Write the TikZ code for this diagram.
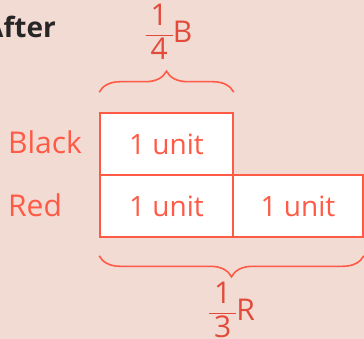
\documentclass[tikz,border=0pt]{standalone}
\usepackage{fontspec}
\setmainfont{Open Sans}
\usetikzlibrary{decorations.pathreplacing}
\definecolor{bgpink}{HTML}{F2DBD3}
\definecolor{coral}{HTML}{FF5A46}
\definecolor{fraccol}{HTML}{E24B3B}
\newcommand{\barfrac}[2]{$\vcenter{\hbox{\setlength{\arrayrulewidth}{1.5pt}\renewcommand{\arraystretch}{1}\begin{tabular}{@{\,}c@{\,}}#1\\[-1pt]\hline #2\end{tabular}}}$}
\begin{document}
\begin{tikzpicture}[x=1pt,y=-1pt,
    unitbox/.style={draw=coral,line width=1.6pt,fill=white,minimum height=62pt,inner sep=0pt,
      text=coral,font=\fontsize{28}{30}\selectfont},
    rowlbl/.style={anchor=base west,text=coral,font=\fontsize{30}{32}\selectfont,inner sep=0pt},
    fraclbl/.style={text=fraccol,font=\fontsize{30}{33}\selectfont,inner sep=0pt},
    curly/.style={draw=coral,line width=1.6pt,decorate,decoration={brace,amplitude=21pt}}]
    \fill[bgpink] (0,0) rectangle (364,339);
    \useasboundingbox (0,0) rectangle (364,339);
    \node[anchor=base east,text=black!85,font=\bfseries\fontsize{28}{30}\selectfont,inner sep=0pt] (after) at (56,38) {After};
    \node[unitbox,minimum width=133pt] (bk) at (166.5,144) {1 unit};
    \node[unitbox,minimum width=133pt] (r1) at (166.5,206) {1 unit};
    \node[unitbox,minimum width=130pt] (r2) at (298,206) {1 unit};
    \node[rowlbl] (blk) at (8,154) {Black};
    \node[rowlbl] (red) at (8,217) {Red};
    \draw[curly] ([yshift=20pt]bk.north west) -- ([yshift=20pt]bk.north east);
    \draw[curly] ([yshift=-18pt]r2.south east) -- ([yshift=-18pt]r1.south west);
    \node[fraclbl] (fb) at (169,36) {\barfrac{1}{4}B};
    \node[fraclbl] (fr) at (232,314) {\barfrac{1}{3}R};
\end{tikzpicture}
\end{document}
